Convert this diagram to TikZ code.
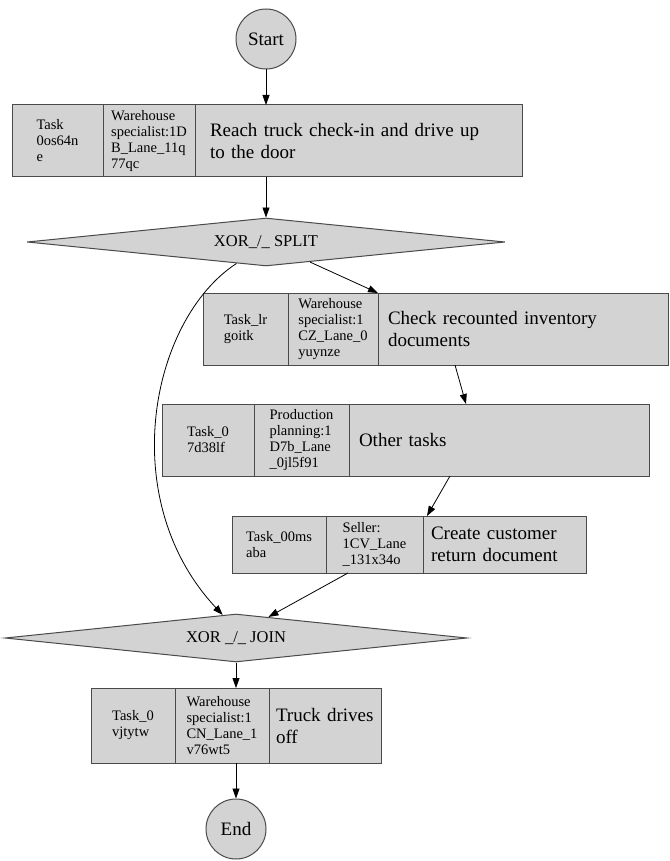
\documentclass[tikz,border=0pt]{standalone}
\usepackage{fontspec}
\setmainfont{Liberation Serif}
\usetikzlibrary{positioning,shapes.geometric,arrows.meta}
\definecolor{boxgray}{HTML}{D3D3D3}
\definecolor{edgegray}{HTML}{4A4A4A}

\begin{document}
\begin{tikzpicture}[x=1pt,y=-1pt]
      \tikzset{
        node distance=0pt,
        event/.style={circle,draw=edgegray,fill=boxgray,line width=1pt,inner sep=0pt,minimum size=60pt,font=\fontsize{19}{22}\selectfont},
        gate/.style={diamond,shape aspect=10,draw=edgegray,fill=boxgray,line width=1pt,inner sep=0pt,minimum height=48pt,font=\fontsize{16.5}{20}\selectfont},
        cell/.style={rectangle,draw=edgegray,fill=boxgray,line width=1pt,outer sep=0pt,inner sep=3pt,align=left,font=\fontsize{14.5}{16}\selectfont},
        namecell/.style={cell,font=\fontsize{19}{22}\selectfont},
        flow/.style={-{Triangle[length=10pt,width=7pt]},line width=0.8pt}
      }
      \useasboundingbox (0,0) rectangle (669,861);

      \node[event] (start) at (266,39) {Start};

      \node[cell,anchor=north west,minimum width=91pt,minimum height=72pt] (t1id) at (12,105) {Task\\0os64n\\e};
      \node[cell,right=of t1id,minimum width=92pt,minimum height=72pt] (t1lane) {Warehouse\\specialist:1D\\B\_Lane\_11q\\77qc};
      \node[namecell,right=of t1lane,text width=297pt,inner xsep=15pt,minimum height=72pt] (t1name) {Reach truck check-in and drive up\\to the door};

      \node[gate,minimum width=478pt] (split) at (266,242) {XOR\_/\_ SPLIT};

      \node[cell,anchor=north west,minimum width=85pt,minimum height=72pt] (t2id) at (203,293) {Task\_lr\\goitk};
      \node[cell,right=of t2id,minimum width=90pt,minimum height=72pt] (t2lane) {Warehouse\\specialist:1\\CZ\_Lane\_0\\yuynze};
      \node[namecell,right=of t2lane,text width=270pt,inner xsep=10pt,minimum height=72pt] (t2name) {Check recounted inventory\\documents};

      \node[cell,anchor=north west,minimum width=92pt,minimum height=72pt] (t3id) at (162,404) {Task\_0\\7d38lf};
      \node[cell,right=of t3id,minimum width=95pt,minimum height=72pt] (t3lane) {Production\\planning:1\\D7b\_Lane\\\_0jl5f91};
      \node[namecell,right=of t3lane,text width=280pt,inner xsep=10pt,minimum height=72pt] (t3name) {Other tasks};

      \node[cell,anchor=north west,minimum width=94pt,minimum height=57pt] (t4id) at (232,516) {Task\_00ms\\aba};
      \node[cell,right=of t4id,minimum width=97pt,minimum height=57pt] (t4lane) {Seller:\\1CV\_Lane\\\_131x34o};
      \node[namecell,right=of t4lane,text width=147pt,inner xsep=8pt,minimum height=57pt] (t4name) {Create customer\\return document};

      \node[gate,minimum width=462pt] (join) at (236,638) {XOR \_/\_ JOIN};

      \node[cell,anchor=north west,minimum width=84pt,minimum height=75pt] (t5id) at (91,688) {Task\_0\\vjtytw};
      \node[cell,right=of t5id,minimum width=94pt,minimum height=75pt] (t5lane) {Warehouse\\specialist:1\\CN\_Lane\_1\\v76wt5};
      \node[namecell,right=of t5lane,text width=98pt,inner xsep=7pt,minimum height=75pt] (t5name) {Truck drives\\off};

      \node[event] (end) at (236,829) {End};

      \draw[flow] (start) -- (start |- t1name.north);
      \draw[flow] (split |- t1name.south) -- (split);
      \draw[flow] (split) -- (t2lane.north east);
      \draw[flow] (split.216) .. controls (150,320) and (115,500) .. (join.120);
      \draw[flow] ([xshift=77pt]t2name.south west) -- ([xshift=117pt]t3name.north west);
      \draw[flow] ([xshift=101pt]t3name.south west) -- ([xshift=4pt]t4name.north west);
      \draw[flow] ([xshift=22pt]t4lane.south west) -- (join.33);
      \draw[flow] (join) -- (join |- t5lane.north);
      \draw[flow] (end |- t5lane.south) -- (end);
    \end{tikzpicture}
\end{document}
